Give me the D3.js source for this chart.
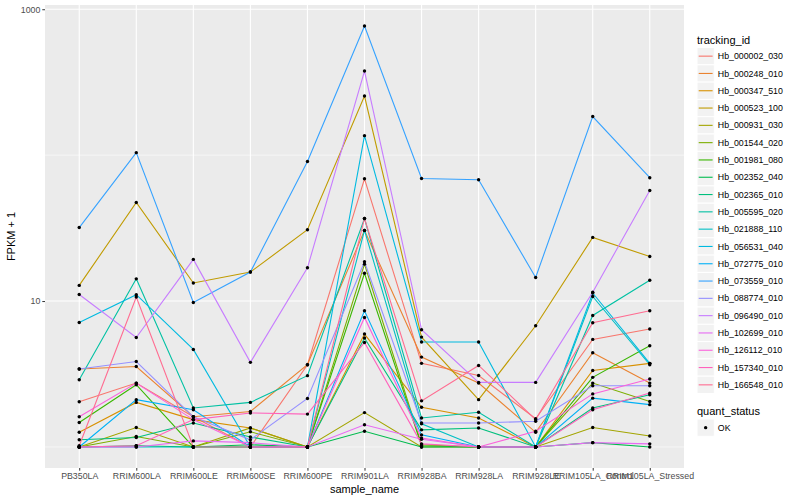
<!DOCTYPE html>
<html>
<head>
<meta charset="utf-8">
<script src="https://cdn.jsdelivr.net/npm/d3@7"></script>
<style>
  body { margin: 0; background: #fff; }
  svg text { font-family: "Liberation Sans", Arial, Helvetica, sans-serif; }
</style>
</head>
<body>
<svg id="chart" width="800" height="500"></svg>
<script>
// data (FPKM + 1)
const samples = ["PB350LA", "RRIM600LA", "RRIM600LE", "RRIM600SE", "RRIM600PE", "RRIM901LA",
  "RRIM928BA", "RRIM928LA", "RRIM928LE", "RRIM105LA_Control", "RRIM105LA_Stressed"]

const trackingIds = ["Hb_000002_030", "Hb_000248_010", "Hb_000347_510", "Hb_000523_100", "Hb_000931_030",
  "Hb_001544_020", "Hb_001981_080", "Hb_002352_040", "Hb_002365_010", "Hb_005595_020",
  "Hb_021888_110", "Hb_056531_040", "Hb_072775_010", "Hb_073559_010", "Hb_088774_010",
  "Hb_096490_010", "Hb_102699_010", "Hb_126112_010", "Hb_157340_010", "Hb_166548_010"]

const hb000002_030 = [2.04, 2.74, 1.61, 1, 3.66, 68.9, 3.74, 3.09, 1.56, 5.46, 6.43]
const hb000248_010 = [3.42, 3.56, 1.61, 1.75, 3.66, 30.5, 4.13, 2.74, 1.26, 4.42, 2.74]
const hb000347_510 = [1.26, 2.02, 1.54, 1.35, 1, 5.94, 1.87, 1.58, 1, 3.34, 3.74]
const hb000523_100 = [12.8, 47.4, 13.3, 15.8, 30.8, 254, 5.66, 2.11, 6.77, 27.3, 20.2]
const hb000931_030 = [1, 1.36, 1, 1.35, 1, 1.72, 1, 1, 1, 1.36, 1.19]
const hb001544_020 = [1, 1.18, 1, 1.27, 1, 17.9, 1.035, 1, 1, 2.74, 2.05]
const hb001981_080 = [1.47, 2.67, 1, 1, 1, 15.5, 1.02, 1, 1, 3.0, 4.94]
const hb002352_040 = [1, 1.02, 1, 1.035, 1, 1.28, 1, 1, 1, 1.07, 1]
const hb002365_010 = [1.12, 1.16, 1.46, 1.17, 1, 5.58, 1.31, 1.35, 1, 1.85, 2.28]
const hb005595_020 = [2.89, 14.2, 1.85, 2.02, 3.08, 36.8, 1.58, 1.73, 1, 7.97, 13.9]
const hb021888_110 = [1, 1, 1, 1, 1, 30.5, 1.44, 1, 1, 10.75, 3.66]
const hb056531_040 = [7.13, 11.05, 4.66, 1, 1, 136, 5.24, 5.24, 1, 11.35, 3.74]
const hb072775_010 = [1, 2.11, 1.80, 1, 1, 8.58, 1.21, 1, 1, 2.16, 1.95]
const hb073559_010 = [31.9, 104, 9.78, 15.8, 90.5, 767, 69.2, 67.8, 14.5, 184, 70]
const hb088774_010 = [3.42, 3.85, 1.61, 1.12, 2.15, 18.6, 1.46, 1.46, 1.50, 2.63, 2.63]
const hb096490_010 = [11.1, 5.63, 19.3, 3.80, 16.9, 377, 6.36, 2.77, 2.77, 11.5, 57.3]
const hb102699_010 = [1, 1, 1.10, 1.07, 1, 1.42, 1.13, 1, 1, 1.07, 1.05]
const hb126112_010 = [1.61, 2.74, 1.54, 1, 1, 7.72, 1.15, 1, 1.28, 2.31, 2.92]
const hb157340_010 = [1, 1.02, 1.54, 1.71, 1.68, 5.20, 1.05, 1, 1, 1.80, 2.34]
const hb166548_010 = [1.02, 10.65, 1, 1, 1, 36.8, 2.07, 3.62, 1.54, 7.10, 8.58]

const seriesValues = [hb000002_030, hb000248_010, hb000347_510, hb000523_100, hb000931_030,
  hb001544_020, hb001981_080, hb002352_040, hb002365_010, hb005595_020,
  hb021888_110, hb056531_040, hb072775_010, hb073559_010, hb088774_010,
  hb096490_010, hb102699_010, hb126112_010, hb157340_010, hb166548_010]

const quantStatus = ["OK"]
const yMajor = [10, 1000]
const yMinor = [1, 100]

// ggplot default hue palette for 20 groups
const palette = ["#F8766D", "#EA8331", "#D89000", "#C09B00", "#A3A500", "#7CAE00", "#39B600", "#00BB4E",
  "#00BF7D", "#00C1A3", "#00BFC4", "#00BAE0", "#00B0F6", "#35A2FF", "#9590FF", "#C77CFF",
  "#E76BF3", "#FA62DB", "#FF62BC", "#FF6C91"]

const series = trackingIds.map((id, i) => ({ id: id, values: seriesValues[i] }))

// panel box
const pLeft = 45, pRight = 684, pTop = 5, pBottom = 468

const svg = d3.select('#chart')

const x = d3.scalePoint()
  .domain(samples)
  .range([pLeft, pRight])
  .padding(0.6)

// log scale, 5% expansion like ggplot
const allVals = seriesValues.flat()
const lmin = Math.log10(d3.min(allVals))
const lmax = Math.log10(d3.max(allVals))
const pad = (lmax - lmin) * 0.05
const y = d3.scaleLog()
  .domain([Math.pow(10, lmin - pad), Math.pow(10, lmax + pad)])
  .range([pBottom, pTop])

const color = d3.scaleOrdinal().domain(trackingIds).range(palette)

svg.append('rect')
  .attr('x', pLeft).attr('y', pTop)
  .attr('width', pRight - pLeft).attr('height', pBottom - pTop)
  .attr('fill', '#EBEBEB')

// grid
const grid = svg.append('g')
grid.selectAll('.minor')
  .data(yMinor).enter().append('line')
  .attr('x1', pLeft).attr('x2', pRight)
  .attr('y1', d => y(d)).attr('y2', d => y(d))
  .attr('stroke', '#fff').attr('stroke-width', 0.55)
grid.selectAll('.major')
  .data(yMajor).enter().append('line')
  .attr('x1', pLeft).attr('x2', pRight)
  .attr('y1', d => y(d)).attr('y2', d => y(d))
  .attr('stroke', '#fff').attr('stroke-width', 1.1)
grid.selectAll('.vgrid')
  .data(samples).enter().append('line')
  .attr('x1', d => x(d)).attr('x2', d => x(d))
  .attr('y1', pTop).attr('y2', pBottom)
  .attr('stroke', '#fff').attr('stroke-width', 1.1)

// lines
const line = d3.line()
  .x((d, i) => x(samples[i]))
  .y(d => y(d))

svg.append('g')
  .selectAll('path')
  .data(series)
  .enter()
  .append('path')
  .attr('d', d => line(d.values))
  .attr('fill', 'none')
  .attr('stroke', d => color(d.id))
  .attr('stroke-width', 1.1)

// points
svg.append('g')
  .selectAll('g')
  .data(series)
  .enter()
  .append('g')
  .selectAll('circle')
  .data(d => d.values)
  .enter()
  .append('circle')
  .attr('cx', (d, i) => x(samples[i]))
  .attr('cy', d => y(d))
  .attr('r', 1.7)
  .attr('fill', '#000')

// axes
const xAxis = d3.axisBottom(x).tickSize(2.7).tickPadding(2)
const gx = svg.append('g')
  .attr('transform', 'translate(0,' + pBottom + ')')
  .call(xAxis)
gx.select('.domain').remove()
gx.selectAll('line').attr('stroke', '#333')
gx.selectAll('text').attr('fill', '#4D4D4D').style('font-size', '8.8px')

const yAxis = d3.axisLeft(y).tickValues(yMajor).tickFormat(d3.format('d')).tickSize(2.7).tickPadding(2)
const gy = svg.append('g')
  .attr('transform', 'translate(' + pLeft + ',0)')
  .call(yAxis)
gy.select('.domain').remove()
gy.selectAll('line').attr('stroke', '#333')
gy.selectAll('text').attr('fill', '#4D4D4D').style('font-size', '8.8px')

svg.append('text')
  .text('sample_name')
  .attr('x', (pLeft + pRight) / 2).attr('y', 493)
  .attr('text-anchor', 'middle')
  .style('font-size', '11px')

svg.append('text')
  .text('FPKM + 1')
  .attr('transform', 'translate(15,' + (pTop + pBottom) / 2 + ') rotate(-90)')
  .attr('text-anchor', 'middle')
  .style('font-size', '11px')

// legend: tracking_id
const lx = 697, ly = 47.5, key = 17.3
const legend = svg.append('g')
legend.append('text')
  .text('tracking_id')
  .attr('x', lx).attr('y', 44)
  .style('font-size', '11px')

const items = legend.selectAll('.item')
  .data(trackingIds)
  .enter()
  .append('g')
  .attr('transform', (d, i) => 'translate(' + lx + ',' + (ly + i * key) + ')')

items.append('rect')
  .attr('width', key).attr('height', key)
  .attr('fill', '#F2F2F2').attr('stroke', '#fff').attr('stroke-width', 1)
items.append('line')
  .attr('x1', 1.7).attr('x2', key - 1.7)
  .attr('y1', key / 2).attr('y2', key / 2)
  .attr('stroke', d => color(d)).attr('stroke-width', 1.1)
items.append('text')
  .text(d => d)
  .attr('x', key + 3.5).attr('y', key / 2 + 3.1)
  .style('font-size', '8.8px')

// legend: quant_status
const qy = 419
legend.append('text')
  .text('quant_status')
  .attr('x', lx).attr('y', 415)
  .style('font-size', '11px')
const q = legend.selectAll('.q')
  .data(quantStatus)
  .enter()
  .append('g')
  .attr('transform', (d, i) => 'translate(' + lx + ',' + (qy + i * key) + ')')
q.append('rect')
  .attr('width', key).attr('height', key)
  .attr('fill', '#F2F2F2').attr('stroke', '#fff').attr('stroke-width', 1)
q.append('circle')
  .attr('cx', key / 2).attr('cy', key / 2).attr('r', 1.7)
  .attr('fill', '#000')
q.append('text')
  .text(d => d)
  .attr('x', key + 3.5).attr('y', key / 2 + 3.1)
  .style('font-size', '8.8px')
</script>
</body>
</html>
